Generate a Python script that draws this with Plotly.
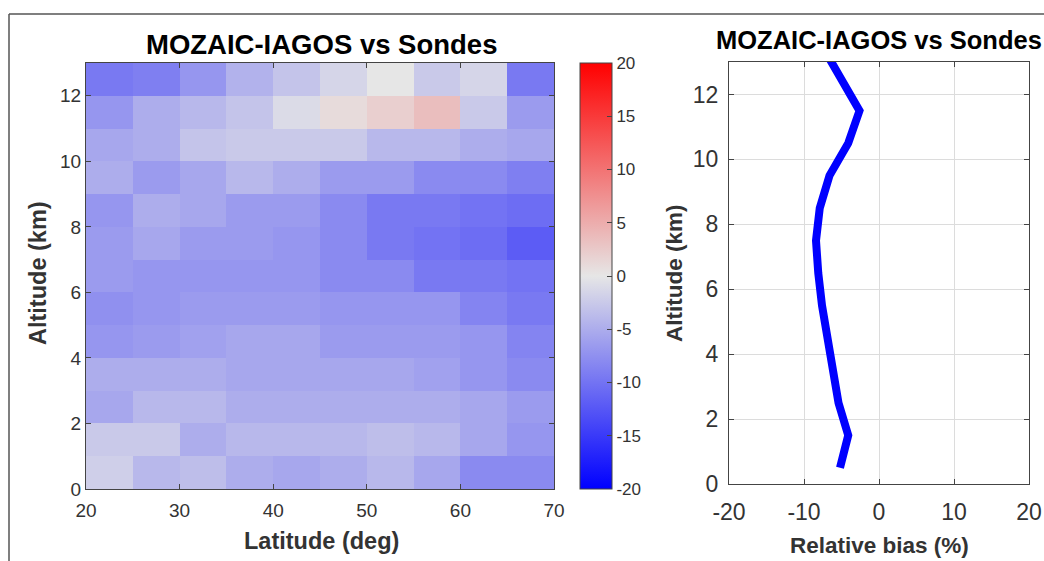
import plotly.graph_objects as go

# ---- data ----
lat_centers = [22.5, 27.5, 32.5, 37.5, 42.5, 47.5, 52.5, 57.5, 62.5, 67.5]
alt_centers = [0.5, 1.5, 2.5, 3.5, 4.5, 5.5, 6.5, 7.5, 8.5, 9.5, 10.5, 11.5, 12.5]
bias_grid = [
    [-2, -4, -3.5, -5, -5.5, -5, -4, -5.5, -8, -8],              # 0-1 km
    [-2.5, -2.5, -5, -4, -4, -4, -3.5, -4, -5.5, -7],            # 1-2
    [-5.5, -4, -4, -5, -5, -5, -5, -5, -5.5, -6.5],              # 2-3
    [-5, -5, -5, -5.5, -5.5, -5.5, -5.5, -6, -7, -8],            # 3-4
    [-7, -6.5, -6, -5.5, -5.5, -6.5, -6.5, -6.5, -7, -8.5],      # 4-5
    [-7.5, -7, -6.5, -6.5, -6.5, -7, -7, -7, -8.5, -9.5],        # 5-6
    [-6.5, -7, -7, -7, -7, -8, -8, -9.5, -9.5, -10],             # 6-7
    [-6.5, -5.5, -6.5, -6.5, -7, -8, -9.5, -10, -10.5, -12],     # 7-8
    [-7, -5, -5.5, -6.5, -6.5, -8, -9.5, -9.5, -10, -10.5],      # 8-9
    [-5, -6.5, -5.5, -4, -5, -6.5, -6.5, -8, -8, -9],            # 9-10
    [-5.5, -5, -3, -2.5, -2.5, -2.5, -4, -4, -5, -5.5],          # 10-11
    [-7, -5, -4, -3, -1, 1, 2, 3.5, -2.5, -6.5],                 # 11-12
    [-9.5, -9, -7, -4.5, -3, -1.5, 0, -2.5, -1.5, -9.5],         # 12-13
]
profile_alt = [0.5, 1.5, 2.5, 3.5, 4.5, 5.5, 6.5, 7.5, 8.5, 9.5, 10.5, 11.5, 12.5, 13.5]
profile_bias = [-5.2, -4.1, -5.4, -6.2, -6.9, -7.6, -8.1, -8.4, -7.9, -6.6, -4.1, -2.6, -5.1, -7.6]

lat_ticks = [20, 30, 40, 50, 60, 70]
alt_ticks = [0, 2, 4, 6, 8, 10, 12]
bias_ticks = [-20, -10, 0, 10, 20]
cbar_ticks = [-20, -15, -10, -5, 0, 5, 10, 15, 20]

title_text = "MOZAIC-IAGOS vs Sondes"
FONT = "Liberation Sans, Arial, Helvetica, sans-serif"
W, H = 1044, 561

def px_x(p):
    return p / W

def px_y(p):
    return 1 - p / H

def lab(v):
    return str(v)

fig = go.Figure()

fig.add_trace(go.Heatmap(
    x=lat_centers, y=alt_centers, z=bias_grid,
    zmin=-20, zmax=20,
    colorscale=[[0, "rgb(0,0,255)"], [0.5, "rgb(230,230,230)"], [1, "rgb(255,0,0)"]],
    xaxis="x", yaxis="y",
    colorbar=dict(
        x=px_x(580), xanchor="left", xref="paper",
        y=px_y(489), yanchor="bottom", yref="paper",
        len=(489 - 63) / H, lenmode="fraction",
        thickness=32, thicknessmode="pixels",
        outlinewidth=1, outlinecolor="#444",
        ticks="inside", ticklen=5, tickcolor="#444",
        tickvals=cbar_ticks, ticktext=[lab(v) for v in cbar_ticks],
        tickfont=dict(family=FONT, size=17, color="#333"),
        xpad=0, ypad=0,
    ),
    showscale=True,
))

fig.add_trace(go.Scatter(
    x=profile_bias, y=profile_alt, mode="lines",
    line=dict(color="rgb(0,0,255)", width=8),
    xaxis="x2", yaxis="y2", showlegend=False,
))

axis_common = dict(
    showline=True, linecolor="#444", linewidth=1, mirror="ticks",
    ticks="inside", ticklen=5, tickcolor="#444", zeroline=False, automargin=False,
)

def annot(text, x, y, size, angle=0, color="#333"):
    return dict(text="<b>" + text + "</b>", x=px_x(x), y=px_y(y), xref="paper", yref="paper",
                xanchor="center", yanchor="middle", showarrow=False, textangle=angle,
                font=dict(family=FONT, size=size, color=color))

fig.update_layout(
    width=W, height=H,
    margin=dict(l=0, r=0, t=0, b=0, autoexpand=False),
    paper_bgcolor="white", plot_bgcolor="white",
    showlegend=False,
    xaxis=dict(domain=[px_x(86), px_x(554)], range=[20, 70],
               tickvals=lat_ticks, ticktext=[lab(v) for v in lat_ticks], showgrid=False,
               tickfont=dict(family=FONT, size=19, color="#333"), ticklabelstandoff=4,
               anchor="y", **axis_common),
    yaxis=dict(domain=[px_y(489), px_y(63)], range=[0, 13],
               tickvals=alt_ticks, ticktext=[lab(v) for v in alt_ticks], showgrid=False,
               tickfont=dict(family=FONT, size=19, color="#333"),
               anchor="x", **axis_common),
    xaxis2=dict(domain=[px_x(729), px_x(1029)], range=[-20, 20],
                tickvals=bias_ticks, ticktext=[lab(v) for v in bias_ticks],
                showgrid=True, gridcolor="#dcdcdc",
                tickfont=dict(family=FONT, size=23, color="#333"), ticklabelstandoff=7,
                anchor="y2", **axis_common),
    yaxis2=dict(domain=[px_y(484), px_y(62)], range=[0, 13],
                tickvals=alt_ticks, ticktext=[lab(v) for v in alt_ticks],
                showgrid=True, gridcolor="#dcdcdc",
                tickfont=dict(family=FONT, size=23, color="#333"), ticklabelstandoff=5,
                anchor="x2", **axis_common),
    annotations=[
        annot(title_text, 321, 45, 27.5, color="black"),
        annot(title_text, 879, 40, 25.5, color="black"),
        annot("Latitude (deg)", 321, 541, 23.5),
        annot("Altitude (km)", 38, 273, 23.5, angle=-90),
        annot("Relative bias (%)", 879, 545, 22.5),
        annot("Altitude (km)", 675, 273, 22.5, angle=-90),
    ],
    shapes=[
        dict(type="line", xref="paper", yref="paper", x0=px_x(9), x1=1, y0=px_y(14), y1=px_y(14),
             line=dict(color="#555", width=1.5)),
        dict(type="line", xref="paper", yref="paper", x0=px_x(9), x1=px_x(9), y0=px_y(14), y1=0,
             line=dict(color="#555", width=1.5)),
    ],
)

fig.write_html("out.html",
               config={"displayModeBar": False},
               post_script="document.body.style.margin='0';document.body.style.overflow='hidden';")
